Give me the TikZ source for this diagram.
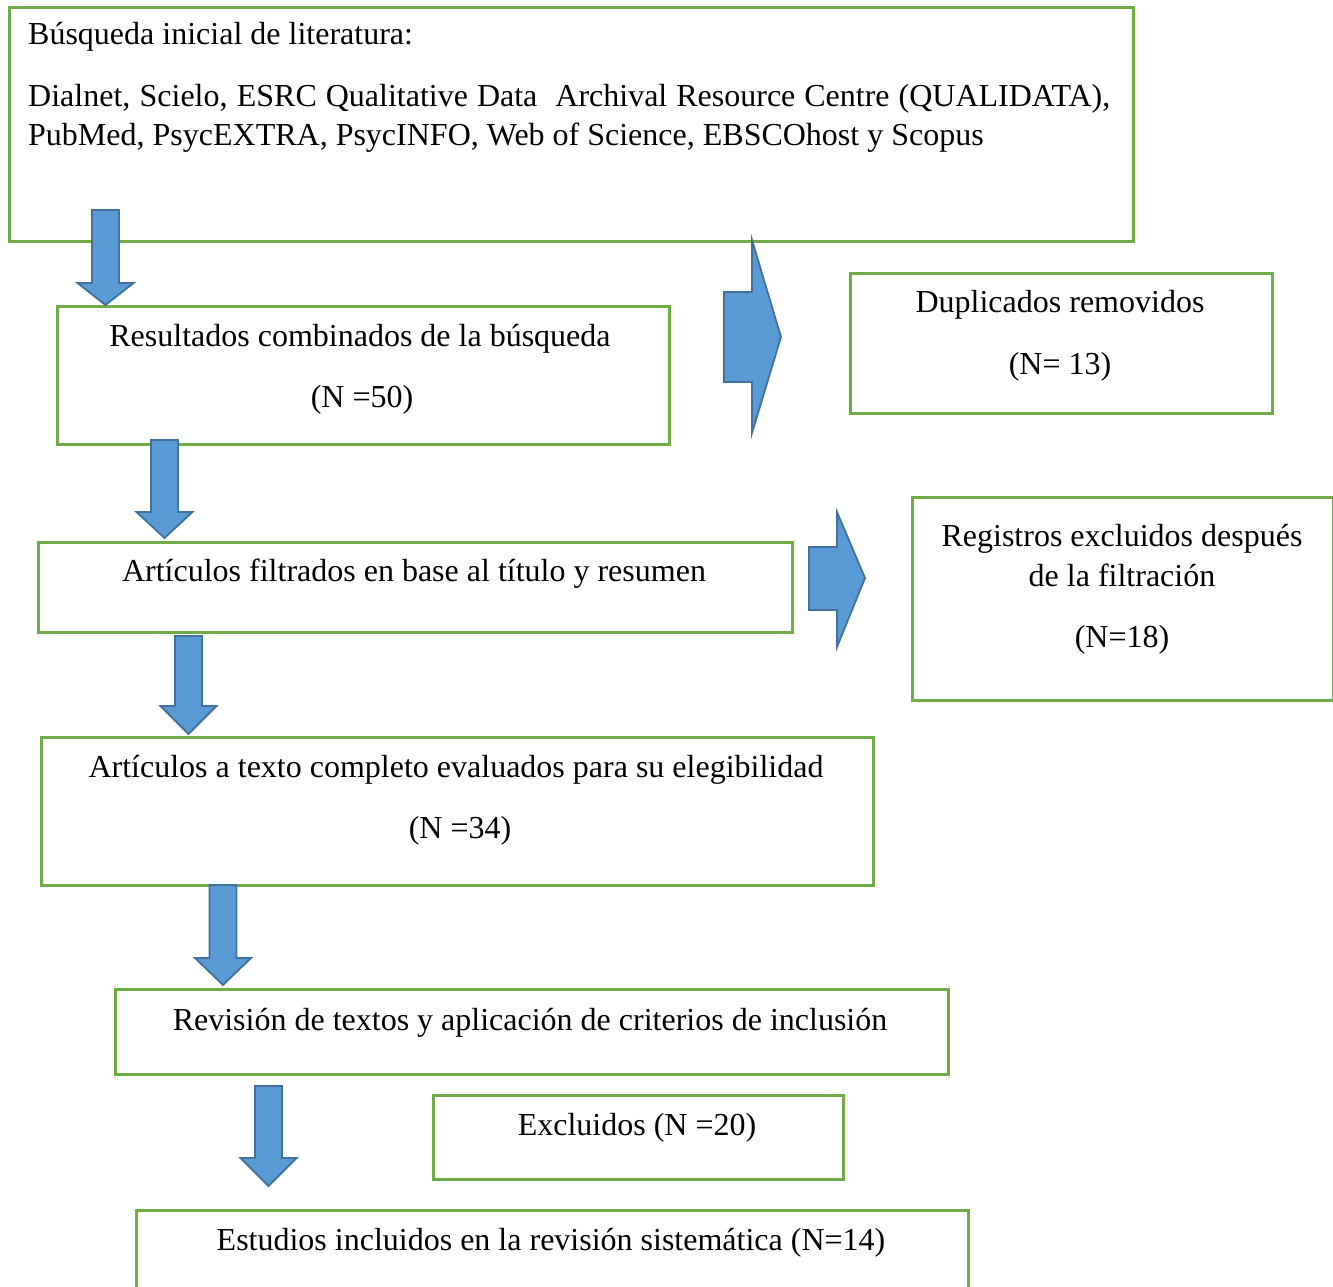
\documentclass[tikz,border=0pt]{standalone}
\usepackage{fontspec}
\setmainfont{Liberation Serif}
\definecolor{boxgreen}{HTML}{70AD47}
\definecolor{arrowfill}{HTML}{5B9BD5}
\definecolor{arrowline}{HTML}{41719C}
\newcommand{\blockdown}[5]{% cx, ytop, yhead, ytip, name
  \draw[blockarrow] (#1-13.5,#2) -- (#1+13.5,#2) -- (#1+13.5,#3) -- (#1+28,#3)
    -- (#1,#4) coordinate (#5) -- (#1-28,#3) -- (#1-13.5,#3) -- cycle;}
\newcommand{\blockright}[8]{% xleft, xbase, xtip, yheadtop, yshafttop, ymid, yshaftbot, yheadbot
  \draw[blockarrow] (#1,#5) -- (#2,#5) -- (#2,#4) -- (#3,#6) -- (#2,#8) -- (#2,#7) -- (#1,#7) -- cycle;}
\begin{document}
\begin{tikzpicture}[x=1pt,y=-1pt,
  box/.style={draw=boxgreen, line width=2.6pt, fill=white, rectangle, inner sep=0pt, anchor=north west},
  txt/.style={inner sep=0pt, anchor=base, font=\fontsize{32}{39}\selectfont},
  blockarrow/.style={fill=arrowfill, draw=arrowline, line width=1.8pt, line join=miter}]
\useasboundingbox (0,0) rectangle (1333,1287);
\clip (0,0) rectangle (1333,1287);
% boxes
\node[box, minimum width=1124pt, minimum height=234pt] (b1) at (8,6) {};
\node[box, minimum width=612pt, minimum height=138pt] (b2) at (56,305) {};
\node[box, minimum width=422pt, minimum height=140pt] (dup) at (849,272) {};
\node[box, minimum width=754pt, minimum height=90pt] (b3) at (37,541) {};
\node[box, minimum width=421pt, minimum height=203pt] (reg) at (911,496) {};
\node[box, minimum width=832pt, minimum height=148pt] (b4) at (40,736) {};
\node[box, minimum width=833pt, minimum height=85pt] (b5) at (114,988) {};
\node[box, minimum width=410pt, minimum height=84pt] (exc) at (432,1094) {};
\node[box, minimum width=832pt, minimum height=140pt] (b6) at (135,1209) {};
% arrows
\blockdown{105.5}{210}{283}{305}{a1}
\blockdown{164.5}{440}{512}{538}{a2}
\blockdown{188.5}{636}{706}{734}{a3}
\blockdown{223}{885}{958}{985}{a4}
\blockdown{268.5}{1086}{1158}{1186}{a5}
\blockright{724}{752}{781}{240}{292}{337}{382}{433}
\blockright{809}{837}{865}{512}{547}{578}{610}{647}
% texts
\node[txt, anchor=base west] (t1a) at (28,45) {Búsqueda inicial de literatura:};
\node[txt, anchor=base west] (t1b) at (28,107) {\makebox[1082pt][s]{Dialnet, Scielo, ESRC Qualitative Data\ \ Archival Resource Centre (QUALIDATA),}};
\node[txt, anchor=base west] (t1c) at (28,146) {PubMed, PsycEXTRA, PsycINFO, Web of Science, EBSCOhost y Scopus};
\node[txt] (t2a) at (360,346) {Resultados combinados de la búsqueda};
\node[txt] (t2b) at (362,407) {(N =50)};
\node[txt] (tda) at (1060,312) {Duplicados removidos};
\node[txt] (tdb) at (1060,374) {(N= 13)};
\node[txt] (t3) at (414,581) {Artículos filtrados en base al título y resumen};
\node[txt] (tra) at (1122,546) {Registros excluidos después};
\node[txt] (trb) at (1122,586) {de la filtración};
\node[txt] (trc) at (1122,647) {(N=18)};
\node[txt] (t4a) at (456,777) {Artículos a texto completo evaluados para su elegibilidad};
\node[txt] (t4b) at (460,838) {(N =34)};
\node[txt] (t5) at (530,1030) {Revisión de textos y aplicación de criterios de inclusión};
\node[txt] (te) at (637,1135) {Excluidos (N =20)};
\node[txt] (t6) at (551,1250) {Estudios incluidos en la revisión sistemática (N=14)};
\end{tikzpicture}
\end{document}
